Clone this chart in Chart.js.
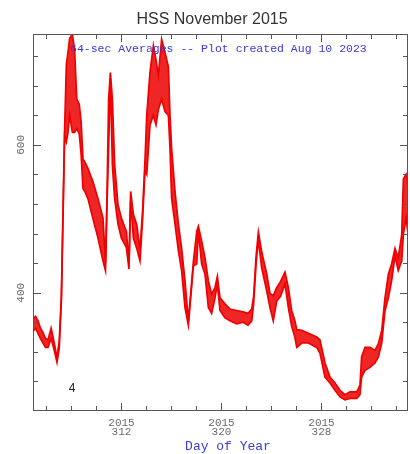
<!DOCTYPE html>
<html>
<head>
<meta charset="utf-8">
<script src="https://cdn.jsdelivr.net/npm/chart.js@4/dist/chart.umd.min.js"></script>
<style>
html,body{margin:0;padding:0;background:#fff;}
#wrap{width:410px;height:454px;}
</style>
</head>
<body>
<div id="wrap"><canvas id="c" width="410" height="454"></canvas></div>
<script>
// Day of year (2015), solar wind speed envelope (km/s)
const days = [305.0,305.2,305.4,305.6,305.8,306.0,306.2,306.45,306.7,306.92,307.1,307.27,307.4,307.53,307.67,307.8,307.93,308.15,308.33,308.5,308.7,308.85,309.0,309.2,309.4,309.8,310.2,310.6,310.8,310.92,311.05,311.19,311.35,311.53,311.8,312.07,312.47,312.68,312.81,313.03,313.3,313.56,313.77,313.96,314.1,314.36,314.63,314.84,315.03,315.29,315.56,315.83,315.96,316.09,316.36,316.63,316.89,317.16,317.43,317.56,317.83,318.1,318.23,318.49,318.76,319.03,319.29,319.56,319.75,319.96,320.36,320.76,321.29,321.8,322.2,322.5,322.65,322.85,323.03,323.29,323.69,323.96,324.22,324.5,324.8,325.16,325.43,325.69,325.95,326.1,326.5,327.03,327.7,327.96,328.36,328.76,329.16,329.56,329.96,330.36,330.9,331.16,331.29,331.56,331.96,332.36,332.63,332.9,333.16,333.43,333.69,333.96,334.22,334.5,334.63,334.85,335.0];
const speedHigh = [365,368,362,352,346,338,336,352,332,312,335,396,510,622,709,725,744,750,728,662,655,631,581,575,568,550,527,501,440,530,662,698,662,574,519,501,483,440,537,506,492,458,512,580,640,698,734,715,694,743,725,706,640,595,537,493,460,416,362,388,442,483,490,470,447,416,398,407,422,393,385,378,376,374,372,378,395,450,482,456,426,399,396,407,415,428,407,376,362,350,349,345,340,336,305,286,278,268,262,266,266,275,313,326,326,322,331,349,393,425,439,460,447,479,554,560,545];
const speedLow = [348,352,345,338,332,326,326,338,322,306,325,390,500,612,604,617,641,617,617,622,615,587,541,535,527,500,474,443,430,520,595,690,573,528,493,474,461,432,525,474,460,443,500,565,560,627,640,627,648,662,645,640,595,528,493,457,430,380,356,382,436,439,484,439,425,380,372,393,412,376,366,362,358,360,356,362,385,440,472,434,403,380,362,389,395,412,380,355,340,326,332,332,326,318,286,278,268,259,255,257,257,262,286,295,299,305,313,332,376,393,416,450,430,443,479,501,480];
const xMajorDays = [312, 320, 328];
const xMajorLabels = [['2015','312'], ['2015','320'], ['2015','328']];
const yMajorValues = [400, 600];
const yMajorLabels = ['400', '600'];
const titleText = 'HSS November 2015';
const subText = '64-sec Averages -- Plot created Aug 10 2023';
const xTitle = 'Day of Year';
const panelTag = '4';

const hiData = days.map((d, i) => ({x: d, y: speedHigh[i]}));
const loData = days.map((d, i) => ({x: d, y: speedLow[i]}));

const decor = {
  id: 'decor',
  afterDatasetsDraw(chart) {
    const ctx = chart.ctx;
    const a = chart.chartArea;
    const xs = chart.scales.x, ys = chart.scales.y;
    ctx.save();
    // frame
    ctx.strokeStyle = '#555';
    ctx.lineWidth = 1;
    ctx.strokeRect(Math.round(a.left) + 0.5, Math.round(a.top) + 0.5, Math.round(a.right - a.left) - 1, Math.round(a.bottom - a.top) - 1);
    // x ticks every 2 days, inward on bottom and top
    ctx.beginPath();
    for (let d = 306; d < 335; d += 2) {
      const px = Math.round(xs.getPixelForValue(d)) + 0.5;
      const len = xMajorDays.includes(d) ? 8 : 5;
      ctx.moveTo(px, a.bottom); ctx.lineTo(px, a.bottom - len);
      ctx.moveTo(px, a.top); ctx.lineTo(px, a.top + len);
    }
    // y ticks every 40
    for (let v = 280; v <= 740; v += 40) {
      const py = Math.round(ys.getPixelForValue(v)) + 0.5;
      const len = yMajorValues.includes(v) ? 8 : 5;
      ctx.moveTo(a.left, py); ctx.lineTo(a.left + len, py);
      ctx.moveTo(a.right, py); ctx.lineTo(a.right - len, py);
    }
    ctx.stroke();

    // x labels
    ctx.fillStyle = '#6a6a6a';
    ctx.font = '11px "Liberation Mono", "DejaVu Sans Mono", monospace';
    ctx.textAlign = 'center';
    ctx.textBaseline = 'middle';
    xMajorDays.forEach((d, i) => {
      const px = xs.getPixelForValue(d) + 1;
      ctx.fillText(xMajorLabels[i][0], px, a.bottom + 12);
      ctx.fillText(xMajorLabels[i][1], px, a.bottom + 21);
    });
    // y labels rotated
    yMajorValues.forEach((v, i) => {
      const py = ys.getPixelForValue(v);
      ctx.save();
      ctx.translate(21, py);
      ctx.rotate(-Math.PI / 2);
      ctx.fillText(yMajorLabels[i], 0, 0);
      ctx.restore();
    });
    // axis title
    ctx.fillStyle = '#3a3ad8';
    ctx.font = '13px "Liberation Mono", "DejaVu Sans Mono", monospace';
    ctx.fillText(xTitle, 228, 447);
    // title
    ctx.fillStyle = '#333';
    ctx.font = '16px "Liberation Sans", Arial, sans-serif';
    ctx.fillText(titleText, 212, 20);
    // subtitle
    ctx.fillStyle = '#3a3ad8';
    ctx.font = '11.5px "Liberation Mono", "DejaVu Sans Mono", monospace';
    ctx.textAlign = 'left';
    ctx.fillText(subText, 70, 49);
    // panel tag
    ctx.fillStyle = '#222';
    ctx.font = '12px "Liberation Sans", Arial, sans-serif';
    ctx.textAlign = 'center';
    ctx.fillText(panelTag, 72, 389);
    ctx.restore();
  }
};

new Chart(document.getElementById('c'), {
  type: 'line',
  data: {
    datasets: [
      {data: hiData, borderColor: '#f00000', borderWidth: 1.7, pointRadius: 0, tension: 0, fill: false},
      {data: loData, borderColor: '#f00000', borderWidth: 1.7, pointRadius: 0, tension: 0, fill: '-1', backgroundColor: 'rgba(235,0,0,0.85)'}
    ]
  },
  options: {
    responsive: false,
    animation: false,
    layout: {padding: {left: 33, top: 34, right: 2, bottom: 43}},
    plugins: {legend: {display: false}, tooltip: {enabled: false}, title: {display: false}},
    scales: {
      x: {type: 'linear', min: 305, max: 335, display: false},
      y: {type: 'linear', min: 240, max: 750, display: false}
    }
  },
  plugins: [decor]
});
</script>
</body>
</html>
